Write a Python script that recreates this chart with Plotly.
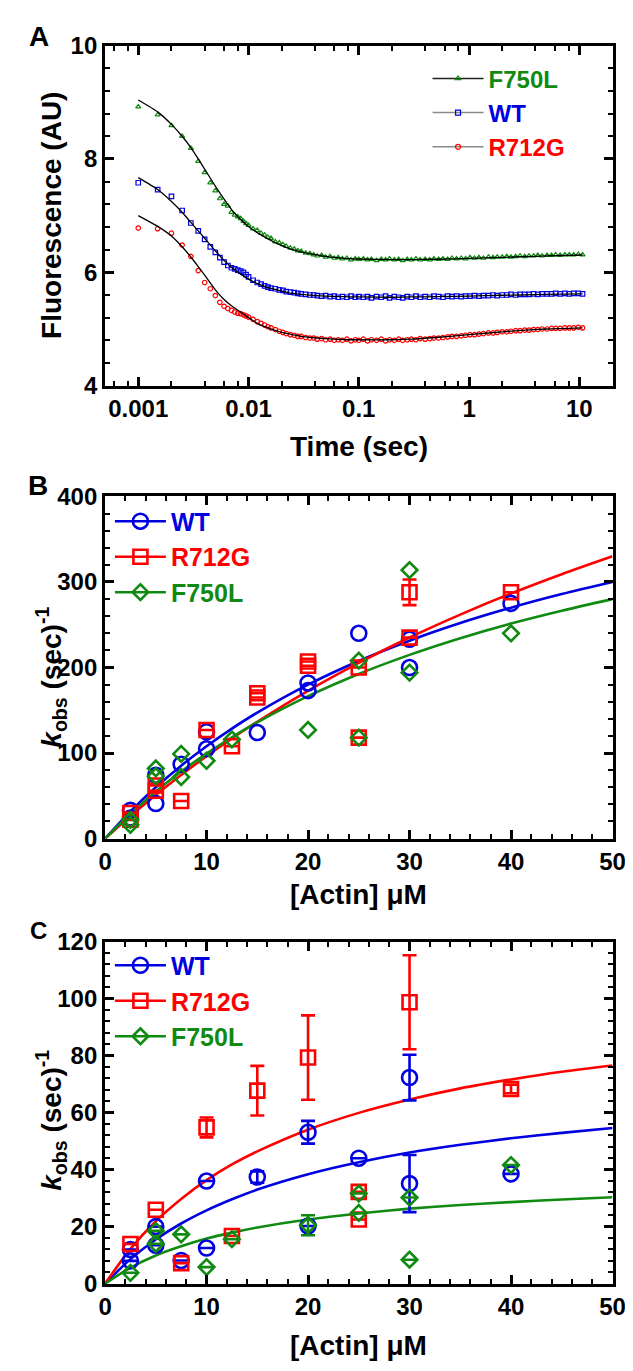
import plotly.graph_objects as go

# ---------------- Panel A: transient fluorescence ----------------
t_data = [0.001, 0.0015, 0.002, 0.0025, 0.003, 0.0035, 0.004, 0.0045, 0.005, 0.0055,
          0.006, 0.0065, 0.007, 0.0075, 0.008, 0.0085, 0.009, 0.0095, 0.010,
          0.011, 0.012, 0.013, 0.014, 0.015, 0.016, 0.0175, 0.019, 0.0205, 0.022,
          0.024, 0.026, 0.028, 0.030, 0.033, 0.036, 0.039, 0.042, 0.046, 0.050,
          0.055, 0.060, 0.065, 0.071, 0.078, 0.085, 0.093, 0.10, 0.11, 0.12,
          0.13, 0.145, 0.16, 0.175, 0.19, 0.21, 0.23, 0.25, 0.275, 0.30,
          0.33, 0.36, 0.40, 0.44, 0.48, 0.53, 0.58, 0.64, 0.70, 0.77,
          0.85, 0.93, 1.02, 1.12, 1.23, 1.35, 1.5, 1.65, 1.8, 2.0,
          2.2, 2.4, 2.65, 2.9, 3.2, 3.5, 3.85, 4.2, 4.6, 5.1,
          5.6, 6.1, 6.7, 7.4, 8.1, 8.9, 9.8, 10.7]

f750l_data = [8.92, 8.78, 8.59, 8.40, 8.19, 7.96, 7.76, 7.58, 7.44, 7.30,
              7.20, 7.17, 7.06, 7.01, 6.98, 6.95, 6.90, 6.86, 6.83,
              6.77, 6.74, 6.69, 6.66, 6.62, 6.60, 6.54, 6.52, 6.49, 6.46,
              6.43, 6.41, 6.38, 6.37, 6.34, 6.33, 6.31, 6.29, 6.30, 6.27,
              6.28, 6.25, 6.26, 6.24, 6.25, 6.22, 6.24, 6.23, 6.24, 6.22,
              6.23, 6.21, 6.23, 6.22, 6.24, 6.22, 6.23, 6.21, 6.23, 6.22,
              6.24, 6.22, 6.23, 6.22, 6.24, 6.23, 6.24, 6.23, 6.25, 6.24,
              6.25, 6.24, 6.26, 6.25, 6.26, 6.25, 6.27, 6.26, 6.27, 6.27,
              6.28, 6.27, 6.28, 6.29, 6.28, 6.29, 6.29, 6.30, 6.29, 6.30,
              6.30, 6.31, 6.30, 6.31, 6.31, 6.31, 6.32, 6.31]

wt_data = [7.58, 7.46, 7.34, 7.09, 6.87, 6.73, 6.58, 6.45, 6.35, 6.26,
           6.18, 6.12, 6.08, 6.06, 6.04, 6.02, 6.00, 5.96, 5.92,
           5.86, 5.82, 5.79, 5.76, 5.74, 5.72, 5.71, 5.69, 5.68, 5.66,
           5.65, 5.64, 5.63, 5.62, 5.61, 5.60, 5.60, 5.59, 5.58, 5.59,
           5.57, 5.58, 5.56, 5.57, 5.56, 5.58, 5.56, 5.57, 5.56, 5.57,
           5.55, 5.57, 5.56, 5.58, 5.55, 5.57, 5.56, 5.55, 5.57, 5.56,
           5.58, 5.56, 5.57, 5.56, 5.58, 5.57, 5.56, 5.58, 5.57, 5.58,
           5.57, 5.58, 5.58, 5.59, 5.58, 5.59, 5.59, 5.60, 5.59, 5.60,
           5.60, 5.61, 5.60, 5.61, 5.61, 5.61, 5.62, 5.61, 5.62, 5.62,
           5.62, 5.63, 5.62, 5.63, 5.62, 5.63, 5.63, 5.62]

r712g_data = [6.78, 6.77, 6.69, 6.48, 6.28, 6.03, 5.82, 5.71, 5.59, 5.47,
              5.40, 5.36, 5.33, 5.30, 5.28, 5.27, 5.25, 5.23, 5.21,
              5.17, 5.13, 5.10, 5.07, 5.04, 5.02, 4.99, 4.96, 4.94, 4.92,
              4.90, 4.89, 4.87, 4.87, 4.85, 4.84, 4.84, 4.82, 4.83, 4.81,
              4.82, 4.80, 4.81, 4.80, 4.82, 4.79, 4.81, 4.80, 4.82, 4.79,
              4.81, 4.80, 4.82, 4.79, 4.81, 4.80, 4.82, 4.80, 4.81, 4.82,
              4.81, 4.83, 4.82, 4.83, 4.84, 4.84, 4.85, 4.86, 4.87, 4.87,
              4.88, 4.89, 4.90, 4.90, 4.91, 4.92, 4.93, 4.93, 4.94, 4.95,
              4.95, 4.96, 4.97, 4.97, 4.98, 4.98, 4.99, 4.99, 5.00, 5.00,
              5.01, 5.01, 5.01, 5.02, 5.02, 5.02, 5.03, 5.02]

t_fit = [0.001, 0.0015, 0.002, 0.0025, 0.003, 0.0035, 0.004, 0.005, 0.006, 0.007,
         0.008, 0.01, 0.012, 0.015, 0.02, 0.025, 0.03, 0.04, 0.05, 0.07,
         0.1, 0.2, 0.3, 0.5, 1, 2, 3, 5, 10.7]
f750l_fit = [9.04, 8.83, 8.61, 8.40, 8.20, 8.00, 7.82, 7.52, 7.29, 7.11,
             6.98, 6.81, 6.70, 6.59, 6.47, 6.40, 6.36, 6.31, 6.28, 6.25,
             6.235, 6.225, 6.225, 6.23, 6.245, 6.265, 6.275, 6.29, 6.305]
wt_fit = [7.67, 7.46, 7.25, 7.06, 6.88, 6.73, 6.60, 6.38, 6.21, 6.09,
          6.00, 5.88, 5.80, 5.73, 5.67, 5.63, 5.61, 5.59, 5.58, 5.57,
          5.565, 5.56, 5.565, 5.57, 5.58, 5.595, 5.60, 5.61, 5.62]
r712g_fit = [7.00, 6.81, 6.64, 6.45, 6.27, 6.10, 5.95, 5.69, 5.52, 5.41,
             5.33, 5.20, 5.10, 5.02, 4.94, 4.90, 4.87, 4.845, 4.83, 4.815,
             4.81, 4.81, 4.82, 4.85, 4.90, 4.95, 4.975, 5.00, 5.02]

a_tickvals = [0.001, 0.01, 0.1, 1, 10]
a_ticktext = ["0.001", "0.01", "0.1", "1", "10"]
a_minor = [0.0006, 0.0008, 0.002, 0.004, 0.006, 0.008, 0.02, 0.04, 0.06, 0.08,
           0.2, 0.4, 0.6, 0.8, 2, 4, 6, 8]

# ---------------- Panel B ----------------
actin_fit = [0, 2.5, 5, 7.5, 10, 12.5, 15, 20, 25, 30, 35, 40, 45, 50]
b_wt_fit = [0, 31.8, 60.0, 85.3, 108.0, 128.6, 147.3, 180.0, 207.7, 231.4, 252.0, 270.0, 285.9, 300.0]
b_r712g_fit = [0, 26.4, 51.1, 74.4, 96.3, 117.0, 136.6, 172.8, 205.4, 235.1, 261.9, 286.5, 309.1, 330.0]
b_f750l_fit = [0, 29.0, 55.1, 78.4, 99.4, 118.5, 135.9, 166.5, 192.5, 214.8, 234.3, 251.4, 266.4, 280.0]

b_wt_x = [2.5, 2.5, 5, 5, 7.5, 10, 10, 15, 20, 20, 25, 30, 30, 40]
b_wt_y = [33, 24, 74, 41, 87, 125, 105, 124, 182, 173, 240, 233, 200, 275]

b_r712g_x = [2.5, 2.5, 5, 5, 7.5, 10, 12.5, 15, 15, 20, 20, 25, 25, 30, 30, 40]
b_r712g_y = [30, 22, 62, 56, 44, 127, 108, 170, 165, 207, 202, 200, 118, 288, 235, 288]
b_r712g_err = [None, None, None, None, None, None, None, None, None, None, None, None, None, 15, None, None]

b_f750l_x = [2.5, 2.5, 5, 5, 7.5, 7.5, 10, 12.5, 20, 25, 25, 30, 30, 40]
b_f750l_y = [22, 16, 82, 73, 99, 72, 91, 116, 127, 208, 118, 314, 194, 240]

# ---------------- Panel C ----------------
c_wt_fit = [0, 8.6, 15.5, 21.1, 25.7, 29.6, 33.0, 38.4, 42.6, 46.0, 48.7, 51.0, 52.9, 54.6]
c_r712g_fit = [0, 12.2, 21.9, 29.7, 36.3, 41.8, 46.4, 54.0, 59.9, 64.6, 68.5, 71.6, 74.3, 76.5]
c_f750l_fit = [0, 5.6, 9.9, 13.1, 15.8, 17.9, 19.7, 22.5, 24.6, 26.3, 27.6, 28.6, 29.5, 30.3]

c_wt_x = [2.5, 2.5, 5, 5, 7.5, 10, 10, 15, 20, 20, 25, 30, 30, 40]
c_wt_y = [12, 8, 20, 13.5, 8.1, 36, 12.5, 37.4, 53.1, 20.2, 44, 72.3, 35.1, 38.5]
c_wt_err = [None, None, None, None, None, None, None, 2, 4, None, None, 8, 10, None]

c_r712g_x = [2.5, 5, 7.5, 10, 12.5, 15, 20, 25, 25, 30, 40]
c_r712g_y = [13.9, 25.9, 7.2, 54.8, 16.7, 67.7, 79.3, 32.2, 22.5, 98.7, 68.3]
c_r712g_err = [None, None, None, 3.5, None, 8.7, 14.8, None, None, 16.5, 1.5]

c_f750l_x = [2.5, 5, 5, 7.5, 10, 12.5, 20, 25, 25, 30, 30, 40]
c_f750l_y = [3.8, 18.5, 14, 17.3, 5.8, 15.6, 20.5, 31.6, 24.8, 30.2, 8.4, 41.6]
c_f750l_err = [None, None, None, None, None, None, 3.5, None, None, None, None, None]

# ---------------- styling ----------------
BLUE = "#0000e0"
RED = "#ff0000"
GREEN = "#118a11"
FONT = "Liberation Sans"
W, H = 633, 1371

fig = go.Figure()

# Panel A
for t, y, col, sym in [(t_data, f750l_data, GREEN, "triangle-up-open"),
                       (t_data, wt_data, BLUE, "square-open"),
                       (t_data, r712g_data, RED, "circle-open")]:
    fig.add_trace(go.Scatter(x=t, y=y, mode="markers", xaxis="x", yaxis="y",
                             marker=dict(symbol=sym, size=4.5, color=col, line=dict(width=1.2, color=col)),
                             showlegend=False, hoverinfo="skip"))
for y in [f750l_fit, wt_fit, r712g_fit]:
    fig.add_trace(go.Scatter(x=t_fit, y=y, mode="lines", xaxis="x", yaxis="y",
                             line=dict(color="black", width=1.3, shape="spline", smoothing=0.6),
                             showlegend=False, hoverinfo="skip"))
for name, col, lcol, sym in [("F750L", GREEN, "#222222", "triangle-up-open"),
                             ("WT", BLUE, "#8a8a8a", "square-open"),
                             ("R712G", RED, "#8a8a8a", "circle-open")]:
    fig.add_trace(go.Scatter(x=[None], y=[None], mode="lines+markers", xaxis="x", yaxis="y",
                             name=f"<span style='color:{col}'>{name}</span>",
                             line=dict(color=lcol, width=1.5),
                             marker=dict(symbol=sym, size=5, color=col, line=dict(width=1.2, color=col)),
                             legend="legend"))

# Panels B and C
def add_panel(xa, ya, leg, fits, series):
    for yfit, col in fits:
        fig.add_trace(go.Scatter(x=actin_fit, y=yfit, mode="lines", xaxis=xa, yaxis=ya,
                                 line=dict(color=col, width=2.6, shape="spline", smoothing=0.8),
                                 showlegend=False, hoverinfo="skip"))
    for xs, ys, errs, col, sym, size in series:
        kw = {}
        if errs is not None:
            kw["error_y"] = dict(type="data", array=errs, visible=True, color=col, thickness=2.6, width=7)
        fig.add_trace(go.Scatter(x=xs, y=ys, mode="markers", xaxis=xa, yaxis=ya,
                                 marker=dict(symbol=sym, size=size, color=col, line=dict(width=2.6, color=col)),
                                 showlegend=False, hoverinfo="skip", **kw))
    for name, col, sym, size in [("WT", BLUE, "circle-open", 15),
                                 ("R712G", RED, "square-open", 14),
                                 ("F750L", GREEN, "diamond-open", 12)]:
        fig.add_trace(go.Scatter(x=[None], y=[None], mode="lines+markers", xaxis=xa, yaxis=ya,
                                 name=f"<span style='color:{col}'>{name}</span>",
                                 line=dict(color=col, width=2.6),
                                 marker=dict(symbol=sym, size=size, color=col, line=dict(width=2.6, color=col)),
                                 legend=leg))

add_panel("x2", "y2", "legend2",
          [(b_wt_fit, BLUE), (b_r712g_fit, RED), (b_f750l_fit, GREEN)],
          [(b_wt_x, b_wt_y, None, BLUE, "circle-open", 15),
           (b_r712g_x, b_r712g_y, b_r712g_err, RED, "square-open", 14),
           (b_f750l_x, b_f750l_y, None, GREEN, "diamond-open", 12)])
add_panel("x3", "y3", "legend3",
          [(c_wt_fit, BLUE), (c_r712g_fit, RED), (c_f750l_fit, GREEN)],
          [(c_wt_x, c_wt_y, c_wt_err, BLUE, "circle-open", 15),
           (c_r712g_x, c_r712g_y, c_r712g_err, RED, "square-open", 14),
           (c_f750l_x, c_f750l_y, c_f750l_err, GREEN, "diamond-open", 12)])

tickfont = dict(family=FONT, size=24, color="black", weight="bold")
common = dict(showline=True, linewidth=3, linecolor="black", mirror="allticks",
              ticks="inside", ticklen=9, tickwidth=2.5, tickcolor="black",
              showgrid=False, zeroline=False, tickfont=tickfont)
xdom = [93 / W, 617 / W]

def ydom(top, bot):
    return [1 - bot / H, 1 - top / H]

legcommon = dict(xanchor="left", yanchor="top", bgcolor="rgba(0,0,0,0)",
                 itemwidth=51, tracegroupgap=0)

fig.update_layout(
    width=W, height=H, margin=dict(l=0, r=0, t=0, b=0),
    paper_bgcolor="white", plot_bgcolor="white",
    xaxis=dict(type="log", range=[-3.30103, 1.30103], domain=xdom, anchor="y",
               tickmode="array", tickvals=a_tickvals, ticktext=a_ticktext,
               minor=dict(ticks="inside", ticklen=5, tickwidth=2, tickcolor="black",
                          tickmode="array", tickvals=a_minor), **common),
    yaxis=dict(range=[4, 10], dtick=2, domain=ydom(24, 371), anchor="x",
               minor=dict(ticks="inside", ticklen=5, tickwidth=2, tickcolor="black", dtick=0.4), **common),
    xaxis2=dict(range=[0, 50], dtick=10, domain=xdom, anchor="y2",
                minor=dict(ticks="inside", ticklen=5, tickwidth=2, tickcolor="black", dtick=2), **common),
    yaxis2=dict(range=[0, 400], dtick=100, domain=ydom(484, 833), anchor="x2",
                minor=dict(ticks="inside", ticklen=5, tickwidth=2, tickcolor="black", dtick=20), **common),
    xaxis3=dict(range=[0, 50], dtick=10, domain=xdom, anchor="y3",
                minor=dict(ticks="inside", ticklen=5, tickwidth=2, tickcolor="black", dtick=2), **common),
    yaxis3=dict(range=[0, 120], dtick=20, domain=ydom(938, 1287), anchor="x3",
                minor=dict(ticks="inside", ticklen=5, tickwidth=2, tickcolor="black", dtick=4), **common),
    legend=dict(x=426 / W, y=1 - 35 / H, font=dict(family=FONT, size=24, weight="bold"), **legcommon),
    legend2=dict(x=98 / W, y=1 - 486 / H, font=dict(family=FONT, size=25, weight="bold"), **legcommon),
    legend3=dict(x=98 / W, y=1 - 939 / H, font=dict(family=FONT, size=25, weight="bold"), **legcommon),
)

def ann(text, xp, yp, size, angle=0):
    fig.add_annotation(text=text, x=xp / W, y=1 - yp / H, xref="paper", yref="paper",
                       showarrow=False, xanchor="center", yanchor="middle", textangle=angle,
                       font=dict(family=FONT, size=size, color="black", weight="bold"))

ann("A", 25, 15, 28)
ann("B", 24, 473, 28)
ann("C", 24, 927, 24)
ann("Fluorescence (AU)", 37, 197, 28, -90)
ann("Time (sec)", 355, 433, 28)
ann("<i>k</i><sub>obs</sub> (sec)<sup>-1</sup>", 37, 668, 28, -90)
ann("[Actin] μM", 355, 890, 28)
ann("<i>k</i><sub>obs</sub> (sec)<sup>-1</sup>", 37, 1120, 28, -90)
ann("[Actin] μM", 355, 1350, 28)

fig.write_html("out.html")
